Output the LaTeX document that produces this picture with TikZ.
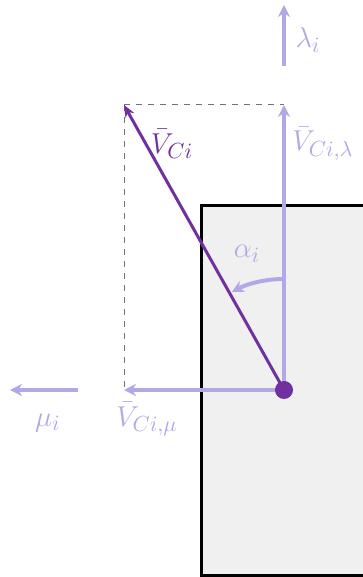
\documentclass[tikz,border=0pt]{standalone}
\usepackage{amsmath}
\usepackage{amssymb}
\usepackage{tikz}
\usepackage{xcolor}
\usetikzlibrary{arrows.meta}
\definecolor{vdark}{RGB}{112,48,160}
\definecolor{vlight}{RGB}{180,167,230}
\definecolor{wallgray}{RGB}{240,240,240}

\begin{document}
\begin{tikzpicture}[x=0.5pt,y=0.5pt,font=\fontsize{15.5}{18}\selectfont,
  light/.style={draw=vlight,line width=2pt,-{Stealth[length=6pt,width=6pt]}},
  guide/.style={draw=black!55,dashed,line width=0.5pt},
  lbl/.style={inner sep=0.5pt}]
\useasboundingbox (0,0) rectangle (363,577);
\fill[wallgray] (201,1.5) rectangle (363,371);
\draw[line width=1.5pt] (363,371) -- (201,371) -- (201,1.5) -- (363,1.5);
\coordinate (O) at (284,187);
\coordinate (tip) at (124,472);
\coordinate (lam) at (284,472);
\coordinate (mu) at (124,187);
\coordinate (lamA) at (284,511);
\coordinate (lamB) at (284,572);
\coordinate (muA) at (78,187);
\coordinate (muB) at (10,187);
\draw[guide] (tip) -- (lam);
\draw[guide] (tip) -- (mu);
\draw[light] (O) -- (lam);
\draw[light] (O) -- (mu);
\draw[light] (lamA) -- (lamB);
\draw[light] (muA) -- (muB);
\draw[light] (O) ++(90:111) arc[start angle=90,end angle=118,radius=111];
\draw[vdark,line width=1.5pt,-{Stealth[length=6pt,width=5pt]}] (O) -- (tip);
\node[circle,fill=vdark,inner sep=0pt,minimum size=9pt] (dot) at (O) {};
\node[lbl,vlight] (lamlabel) at (308,537) {\(\lambda_i\)};
\node[lbl,vdark] (vlabel) at (172,433) {\(\bar{V}_{Ci}\)};
\node[lbl,vlight] (vlamlabel) at (323,433) {\(\bar{V}_{Ci,\lambda}\)};
\node[lbl,vlight] (alabel) at (247,323) {\(\alpha_i\)};
\node[lbl,vlight] (mulabel) at (48,154) {\(\mu_i\)};
\node[lbl,vlight] (vmulabel) at (147,158) {\(\bar{V}_{Ci,\mu}\)};
\end{tikzpicture}
\end{document}
